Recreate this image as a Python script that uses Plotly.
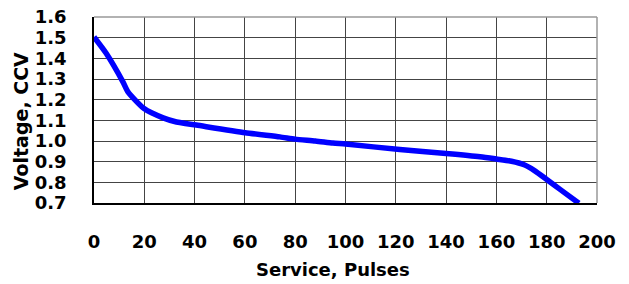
import plotly.graph_objects as go

pulses = [0, 4.9, 11.5, 13.5, 19.9, 27.5, 32.8, 40.7, 60.1, 73.9, 80, 88, 95, 100,
          121.6, 140, 153.5, 160, 166, 171, 175, 180, 185.3, 192.8]
voltage = [1.503, 1.423, 1.286, 1.238, 1.157, 1.112, 1.092, 1.077, 1.04, 1.02, 1.009, 1.0, 0.99, 0.985,
           0.959, 0.94, 0.924, 0.913, 0.902, 0.885, 0.858, 0.814, 0.766, 0.699]

x_ticks = [0, 20, 40, 60, 80, 100, 120, 140, 160, 180, 200]
y_ticks = [0.7, 0.8, 0.9, 1.0, 1.1, 1.2, 1.3, 1.4, 1.5, 1.6]

font = dict(family="DejaVu Sans", size=18, color="black", weight="bold")

fig = go.Figure()
fig.add_trace(go.Scatter(x=pulses, y=voltage, mode="lines",
                         line=dict(color="#0000FF", width=5.5, shape="spline", smoothing=0.6),
                         showlegend=False, cliponaxis=False))

fig.update_layout(
    width=629, height=284,
    margin=dict(l=94, r=32, t=17, b=81, autoexpand=False),
    paper_bgcolor="white", plot_bgcolor="white",
    font=font,
    xaxis=dict(range=[0, 200], tickvals=x_ticks, ticktext=[str(v) for v in x_ticks],
               showgrid=True, gridcolor="#444444", gridwidth=1, automargin=False,
               showline=True, linecolor="black", linewidth=1.5,
               ticks="", ticklabelstandoff=22, zeroline=False, tickfont=font),
    yaxis=dict(range=[0.7, 1.6], tickvals=y_ticks, ticktext=[f"{v:.1f}" for v in y_ticks],
               showgrid=True, gridcolor="#444444", gridwidth=1, automargin=False,
               showline=True, linecolor="black", linewidth=1.5,
               ticks="", ticklabelstandoff=22, zeroline=False, tickfont=font),
    shapes=[
        dict(type="line", xref="paper", yref="paper", x0=0, x1=1, y0=1, y1=1,
             line=dict(color="#999999", width=1.5)),
        dict(type="line", xref="paper", yref="paper", x0=1, x1=1, y0=0, y1=1,
             line=dict(color="#999999", width=1.5)),
    ],
    annotations=[
        dict(text="Service, Pulses", xref="paper", yref="paper", x=0.475, y=-0.36,
             xanchor="center", yanchor="middle", showarrow=False, font=font),
        dict(text="Voltage, CCV", xref="paper", yref="paper", x=-0.145, y=0.44,
             xanchor="center", yanchor="middle", textangle=-90, showarrow=False,
             font=dict(family="DejaVu Sans", size=19, color="black", weight="bold")),
    ],
)

fig.write_html("out.html", config={"displayModeBar": False},
               post_script="document.body.style.margin='0';document.body.style.overflow='hidden';")
